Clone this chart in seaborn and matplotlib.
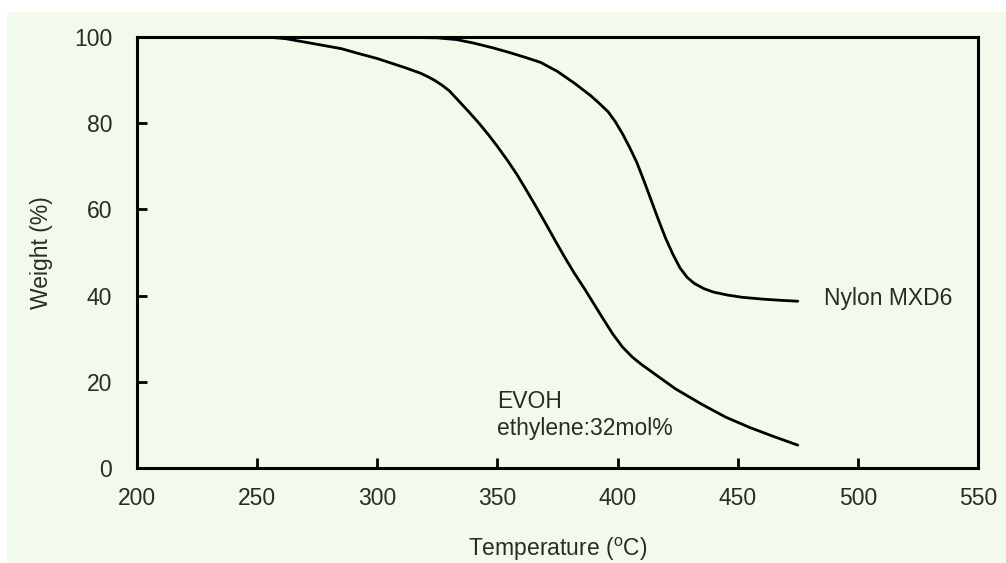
import matplotlib
matplotlib.use("Agg")
import matplotlib.pyplot as plt
import seaborn as sns
import pandas as pd
from matplotlib.patches import Rectangle

# ---- data ----
nylon_temp = [250, 300, 325, 333, 340, 348, 355, 362, 368, 375, 382, 389, 392, 396, 399, 402,
              405, 408, 411, 414, 417, 420, 423, 426, 429, 432, 436, 440, 446, 452, 460, 468, 475]
nylon_weight = [100, 100, 99.8, 99.4, 98.6, 97.5, 96.4, 95.2, 94.1, 92.0, 89.3, 86.3, 84.8, 82.7, 80.4, 77.6,
                74.4, 70.9, 66.6, 62.1, 57.6, 53.3, 49.6, 46.4, 44.2, 42.8, 41.6, 40.8, 40.1, 39.6, 39.2, 38.9, 38.7]

evoh_temp = [250, 256, 262, 270, 278, 285, 292, 300, 306, 312, 318, 321, 324, 327, 330, 334,
             338, 342, 346, 350, 354, 358, 362, 366, 370, 374, 378, 382, 386, 390, 394, 398,
             402, 406, 410, 414, 424, 435, 445, 455, 465, 475]
evoh_weight = [100, 99.9, 99.6, 98.8, 98.0, 97.3, 96.2, 95.0, 93.9, 92.8, 91.6, 90.8, 89.9, 88.8, 87.5, 85.1,
               82.7, 80.2, 77.5, 74.6, 71.5, 68.2, 64.5, 60.7, 56.8, 52.8, 48.9, 45.2, 41.8, 38.2, 34.6, 31.1,
               28.1, 25.8, 24.0, 22.4, 18.4, 14.8, 11.8, 9.4, 7.3, 5.3]

x_ticks = [200, 250, 300, 350, 400, 450, 500, 550]
y_ticks = [0, 20, 40, 60, 80, 100]
label_nylon = "Nylon MXD6"
label_evoh = "EVOH\nethylene:32mol%"

df = pd.concat([
    pd.DataFrame({"Temperature": nylon_temp, "Weight": nylon_weight, "Material": "Nylon MXD6"}),
    pd.DataFrame({"Temperature": evoh_temp, "Weight": evoh_weight, "Material": "EVOH"}),
], ignore_index=True)

sns.set_theme(style="ticks")
plt.rcParams["font.family"] = ["Liberation Sans", "DejaVu Sans"]
plt.rcParams["mathtext.fontset"] = "custom"
plt.rcParams["mathtext.rm"] = "Liberation Sans"

bg = "#f2fbeb"
text_color = "#2a2a2a"
fs = 16.5

fig = plt.figure(figsize=(10.06, 5.63), dpi=100)
fig.patch.set_facecolor("white")
fig.patches.append(Rectangle((7 / 1006, 0), 1 - 7 / 1006, 1 - 12 / 563,
                             transform=fig.transFigure, facecolor=bg, edgecolor="none", zorder=-10))

ax = fig.add_axes([137 / 1006, 1 - 468 / 563, (978 - 137) / 1006, (468 - 37) / 563])
ax.set_facecolor(bg)

sns.lineplot(data=df, x="Temperature", y="Weight", units="Material", estimator=None,
             color="black", linewidth=2.0, sort=False, ax=ax, legend=False)

ax.set_xlim(200, 550)
ax.set_ylim(0, 100)
ax.set_xticks(x_ticks)
ax.set_yticks(y_ticks)
ax.tick_params(direction="in", length=7, width=2, colors="black", labelsize=fs,
               labelcolor=text_color)
ax.tick_params(axis="x", pad=14)
ax.tick_params(axis="y", pad=18)
for s in ax.spines.values():
    s.set_linewidth(2.2)
    s.set_color("black")
    s.set_visible(True)

ax.set_xlabel("Temperature ($^{\\mathregular{o}}$C)", fontsize=fs, color=text_color, labelpad=18)
ax.set_ylabel("Weight (%)", fontsize=fs, color=text_color, labelpad=15)

ax.text(486, 39.4, label_nylon, fontsize=fs, color=text_color, ha="left", va="center")
ax.text(350, 12.3, label_evoh, fontsize=fs, color=text_color, ha="left", va="center",
        linespacing=1.25)

fig.savefig("out.png", dpi=100, facecolor=fig.get_facecolor())
